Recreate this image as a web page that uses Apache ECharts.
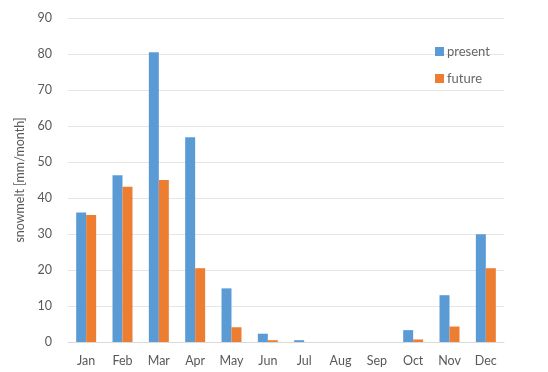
<!DOCTYPE html>
<html>
<head>
<meta charset="utf-8">
<script src="https://cdn.jsdelivr.net/npm/echarts@6/dist/echarts.min.js"></script>
<style>
  html, body { margin: 0; padding: 0; background: #fff; }
  #chart { width: 548px; height: 372px; }
</style>
</head>
<body>
<div id="chart"></div>
<script>
  // monthly snowmelt
  var months = ['Jan', 'Feb', 'Mar', 'Apr', 'May', 'Jun', 'Jul', 'Aug', 'Sep', 'Oct', 'Nov', 'Dec'];
  var present = [36.0, 46.3, 80.5, 56.9, 14.9, 2.3, 0.5, 0, 0, 3.3, 13.0, 29.9];
  var future = [35.3, 43.1, 45.0, 20.5, 4.1, 0.5, 0, 0, 0, 0.7, 4.3, 20.5];

  var myChart = echarts.init(document.getElementById('chart'));
  myChart.setOption({
    animation: false,
    textStyle: { fontFamily: 'Lato', color: '#595959' },
    legend: {
      orient: 'vertical',
      left: 430,
      top: 40,
      itemWidth: 9,
      itemHeight: 9,
      itemGap: 14,
      itemStyle: { borderWidth: 0 },
      textStyle: { fontSize: 13, color: '#666666', padding: [0, 0, 0, -2] },
      data: [
        { name: 'present', icon: 'rect' },
        { name: 'future', icon: 'rect' }
      ]
    },
    grid: { left: 68, right: 44, top: 18, bottom: 30 },
    xAxis: {
      type: 'category',
      data: months,
      axisLine: { lineStyle: { color: '#d9d9d9' } },
      axisTick: { show: false },
      axisLabel: { fontSize: 12.5, color: '#595959', margin: 12 }
    },
    yAxis: {
      type: 'value',
      min: 0,
      max: 90,
      interval: 10,
      name: 'snowmelt [mm/month]',
      nameLocation: 'middle',
      nameGap: 42,
      nameTextStyle: { fontSize: 12.5, color: '#595959' },
      axisLine: { show: false },
      axisTick: { show: false },
      axisLabel: { fontSize: 12.5, color: '#595959', margin: 16 },
      splitLine: { lineStyle: { color: '#e6e6e6' } }
    },
    series: [
      {
        name: 'present',
        type: 'bar',
        data: present,
        barGap: '0%',
        barCategoryGap: '45%',
        itemStyle: { color: '#5b9bd5' }
      },
      {
        name: 'future',
        type: 'bar',
        data: future,
        itemStyle: { color: '#ed7d31' }
      }
    ]
  });
</script>
</body>
</html>
